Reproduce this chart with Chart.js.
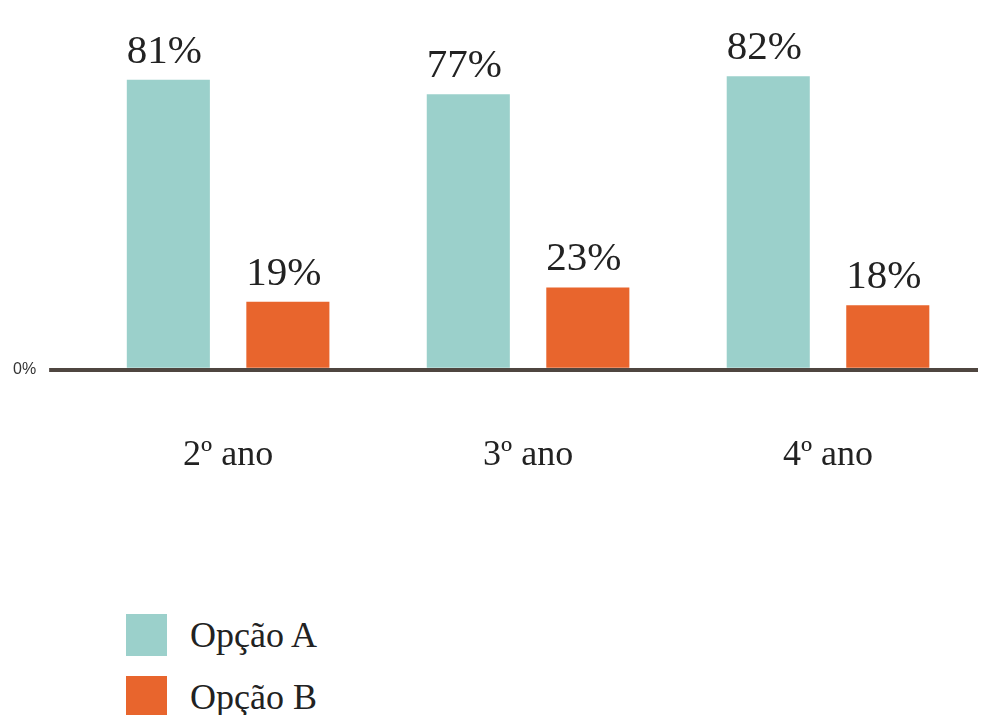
<!DOCTYPE html>
<html lang="pt">
<head>
<meta charset="utf-8">
<title>Opção A x Opção B</title>
<script src="https://cdn.jsdelivr.net/npm/chart.js@4/dist/chart.umd.min.js"></script>
<style>
    html, body { margin: 0; padding: 0; background: #fff; overflow: hidden; }
    #wrap { position: relative; width: 983px; height: 715px; overflow: hidden; }
    #chart-box { position: absolute; left: 0; top: 0; width: 983px; height: 563px; }
    #legend { position: absolute; left: 126px; top: 614px; margin: 0; padding: 0; list-style: none; }
    #legend li { display: flex; align-items: center; height: 42px; margin-bottom: 20px;
                 font-family: "Liberation Serif", "Times New Roman", serif; font-size: 36px; color: #222; }
    #legend span.box { display: inline-block; width: 41px; height: 42px; margin-right: 23px; }
</style>
</head>
<body>
<div id="wrap">
    <div id="chart-box"><canvas id="grafico"></canvas></div>
    <ul id="legend"></ul>
</div>
<script>
// Dados do gráfico
const categories = ['2º ano', '3º ano', '4º ano'];
const seriesNames = ['Opção A', 'Opção B'];
const optionA = [81, 77, 82];
const optionB = [19, 23, 18];
const yTicks = [0];

const colors = ['#9bd0cb', '#e8652d'];
const baseColor = '#4f4640';

// Rótulos de valor acima das barras
const valueLabels = {
    id: 'valueLabels',
    afterDatasetsDraw(chart) {
        const ctx = chart.ctx;
        ctx.save();
        ctx.font = '41px "Liberation Serif", "Times New Roman", serif';
        ctx.fillStyle = '#222';
        ctx.textAlign = 'center';
        ctx.textBaseline = 'alphabetic';
        chart.data.datasets.forEach((ds, i) => {
            chart.getDatasetMeta(i).data.forEach((bar, j) => {
                ctx.fillText(ds.data[j] + '%', bar.x - 4, bar.y - 17);
            });
        });
        ctx.restore();
    }
};

const chart = new Chart(document.getElementById('grafico'), {
    type: 'bar',
    data: {
        labels: categories,
        datasets: [
            { label: seriesNames[0], data: optionA, backgroundColor: colors[0] },
            { label: seriesNames[1], data: optionB, backgroundColor: colors[1] }
        ]
    },
    options: {
        responsive: true,
        maintainAspectRatio: false,
        animation: false,
        categoryPercentage: 0.797,
        barPercentage: 0.695,
        layout: { padding: { top: 0, left: 0, right: 5, bottom: 30 } },
        plugins: {
            legend: { display: false },
            tooltip: { enabled: false }
        },
        scales: {
            x: {
                grid: { display: false },
                border: { display: false },
                ticks: {
                    color: '#222',
                    padding: 56,
                    font: { family: '"Liberation Serif", "Times New Roman", serif', size: 36 }
                }
            },
            y: {
                min: 0,
                max: 97,
                z: 1,
                afterBuildTicks: scale => { scale.ticks = yTicks.map(v => ({ value: v })); },
                grid: { color: baseColor, lineWidth: 4, tickLength: 29, drawTicks: true },
                border: { display: false },
                ticks: {
                    color: '#333',
                    padding: 13,
                    font: { family: '"Liberation Sans", Arial, sans-serif', size: 16 },
                    callback: v => v + '%'
                }
            }
        }
    },
    plugins: [valueLabels]
});

// Legenda em HTML (lista vertical)
const legend = document.getElementById('legend');
chart.data.datasets.forEach(ds => {
    const li = document.createElement('li');
    li.innerHTML = `<span class="box" style="background:${ds.backgroundColor}"></span>${ds.label}`;
    legend.appendChild(li);
});
</script>
</body>
</html>
